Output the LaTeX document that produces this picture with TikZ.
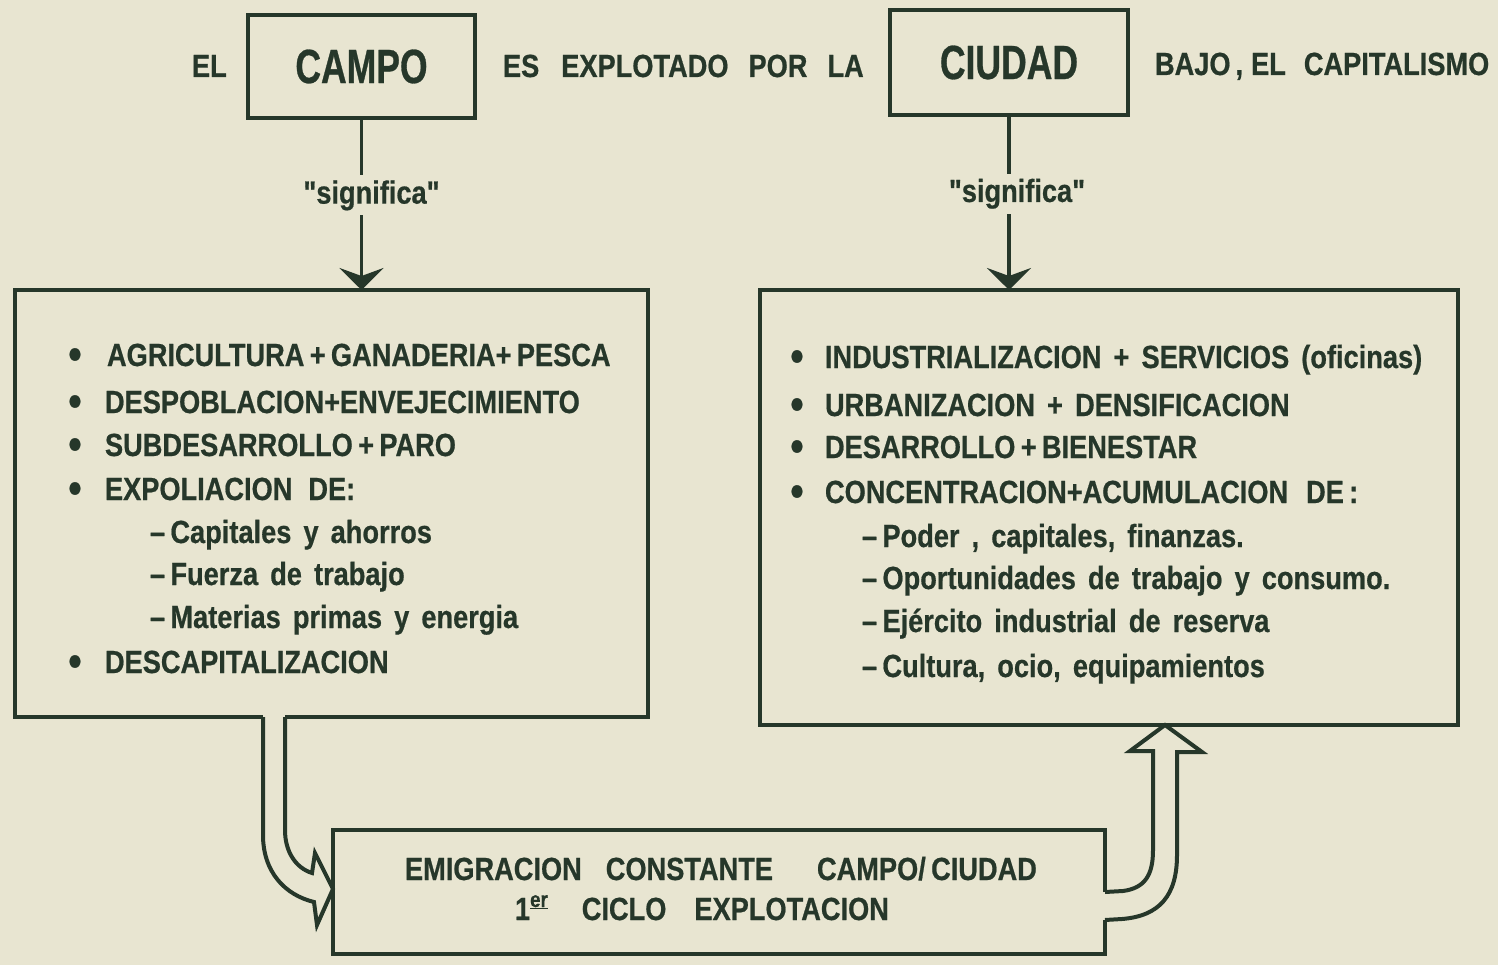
\documentclass[tikz,border=0pt]{standalone}
\usepackage{fontspec}
\newfontfamily\cf{Liberation Sans}[FakeStretch=0.85,WordSpace=1.6,FakeBold=0.6]
\newfontfamily\cfc{Liberation Sans}[FakeStretch=0.74,FakeBold=0.6]
\usetikzlibrary{arrows.meta}
\definecolor{bg}{HTML}{E8E5D1}
\definecolor{ink}{HTML}{26372A}
\tikzset{
  frame/.style={draw=ink, line width=4.5pt, line join=miter},
  boxn/.style={inner sep=0pt, outer sep=0pt},
  bigbox/.style={frame, inner sep=0pt, outer sep=0pt, text=ink,
     font=\cfc\bfseries\fontsize{48}{50}\selectfont},
  txt/.style={text=ink, inner sep=0pt, outer sep=0pt,
     font=\cf\bfseries\fontsize{32}{38}\selectfont},
  bul/.style={text=ink, inner sep=0pt, outer sep=0pt, anchor=base,
     font=\cf\bfseries\fontsize{44}{44}\selectfont},
  conn/.style={draw=ink, line width=3.5pt,
     -{Stealth[width=44pt,length=22pt,inset=8pt]}},
  lab/.style={txt, fill=bg, inner sep=5pt},
  hol/.style={draw=ink, line width=4pt, line join=miter}
}
\begin{document}
\begin{tikzpicture}[x=1pt,y=-1pt]
\useasboundingbox (0,0) rectangle (1498,965);
\fill[bg] (0,0) rectangle (1498,965);

% top line
\node[txt, anchor=base west] (el) at (192,77) {EL};
\node[bigbox, minimum width=227pt, minimum height=103pt] (CAMPO) at (361.5,66.5) {CAMPO};
\node[txt, anchor=base west] (es) at (503,77) {ES\hspace{22pt}EXPLOTADO\hspace{20pt}POR\hspace{20pt}LA};
\node[bigbox, minimum width=238pt, minimum height=105pt] (CIUDAD) at (1009,62.5) {CIUDAD};
\node[txt, anchor=base west] (bajo) at (1155,75) {BAJO\hspace{5pt},\hspace{8pt}EL\hspace{18pt}CAPITALISMO};

% big boxes
\node[boxn, minimum width=633pt, minimum height=427pt] (L) at (331.5,503.5) {};
\node[boxn, frame, minimum width=698pt, minimum height=435pt] (R) at (1109,507.5) {};
\node[boxn, minimum width=772pt, minimum height=124pt] (B) at (719,892) {};

% connectors with label
\draw[conn] (CAMPO.south) -- (CAMPO.south |- L.north)
   node[lab, pos=.45, xshift=10pt] (s1) {"significa"};
\draw[conn] (CIUDAD.south) -- (CIUDAD.south |- R.north)
   node[lab, pos=.45, xshift=8pt] (s2) {"significa"};

% left box outline with opening for the hollow arrow
\coordinate (Lg1) at (263,717);
\coordinate (Lg2) at (285,717);
\draw[frame] (Lg1) -- (L.south west) -- (L.north west) -- (L.north east) -- (L.south east) -- (Lg2);

% bottom box outline with opening on the right
\coordinate (Bg1) at (1105,892);
\coordinate (Bg2) at (1105,920);
\draw[frame] (Bg1) -- (B.north east) -- (B.north west) -- (B.south west) -- (B.south east) -- (Bg2);

% hollow arrow left box -> bottom box
\draw[hol] (Lg1) -- (263,835) .. controls (263,872) and (285,895) .. (314,902)
   -- (317,925) -- (B.west |- 0,889) -- (315,853) -- (312,873)
   .. controls (296,868) and (285,852) .. (285,830) -- (Lg2);

% hollow arrow bottom box -> right box
\draw[hol] (Bg1) -- (1123,891) .. controls (1145,888) and (1153,875) .. (1153,850)
   -- (1153,751) -- (1130,751) -- (R.south -| 1165,0) -- (1202,752) -- (1177,752)
   -- (1177,855) .. controls (1177,895) and (1160,916) .. (1122,919) -- (Bg2);

% left list
\node[bul] (lb1) at (75,369) {\textbullet};
\node[txt, anchor=base west] (l1) at (107,366) {AGRICULTURA\,+\,GANADERIA+\,PESCA};
\node[bul] (lb2) at (75,416) {\textbullet};
\node[txt, anchor=base west] (l2) at (105,413) {DESPOBLACION+ENVEJECIMIENTO};
\node[bul] (lb3) at (75,459) {\textbullet};
\node[txt, anchor=base west] (l3) at (105,456) {SUBDESARROLLO\,+\,PARO};
\node[bul] (lb4) at (75,503) {\textbullet};
\node[txt, anchor=base west] (l4) at (105,500) {EXPOLIACION\hspace{16pt}DE:};
\node[txt, anchor=base west] (l5) at (150,543) {–\,Capitales y ahorros};
\node[txt, anchor=base west] (l6) at (150,585) {–\,Fuerza de trabajo};
\node[txt, anchor=base west] (l7) at (150,628) {–\,Materias primas y energia};
\node[bul] (lb8) at (75,676) {\textbullet};
\node[txt, anchor=base west] (l8) at (105,673) {DESCAPITALIZACION};

% right list
\node[bul] (rb1) at (797,371) {\textbullet};
\node[txt, anchor=base west] (r1) at (825,368) {INDUSTRIALIZACION + SERVICIOS (oficinas)};
\node[bul] (rb2) at (797,419) {\textbullet};
\node[txt, anchor=base west] (r2) at (825,416) {URBANIZACION + DENSIFICACION};
\node[bul] (rb3) at (797,461) {\textbullet};
\node[txt, anchor=base west] (r3) at (825,458) {DESARROLLO\,+\,BIENESTAR};
\node[bul] (rb4) at (797,506) {\textbullet};
\node[txt, anchor=base west] (r4) at (825,503) {CONCENTRACION+ACUMULACION\hspace{18pt}DE\,:};
\node[txt, anchor=base west] (r5) at (862,547) {–\,Poder , capitales, finanzas.};
\node[txt, anchor=base west] (r6) at (862,589) {–\,Oportunidades de trabajo y consumo.};
\node[txt, anchor=base west] (r7) at (862,632) {–\,Ejército industrial de reserva};
\node[txt, anchor=base west] (r8) at (862,677) {–\,Cultura, ocio, equipamientos};

% bottom box text
\node[txt, anchor=base west] (b1) at (405,880)
  {EMIGRACION\hspace{24pt}CONSTANTE\hspace{44pt}CAMPO/\,CIUDAD};
\node[txt, anchor=base west] (b2) at (515,920)
  {1\raisebox{13pt}{\fontsize{22}{22}\selectfont\underline{er}}\hspace{34pt}CICLO\hspace{28pt}EXPLOTACION};
\end{tikzpicture}
\end{document}
